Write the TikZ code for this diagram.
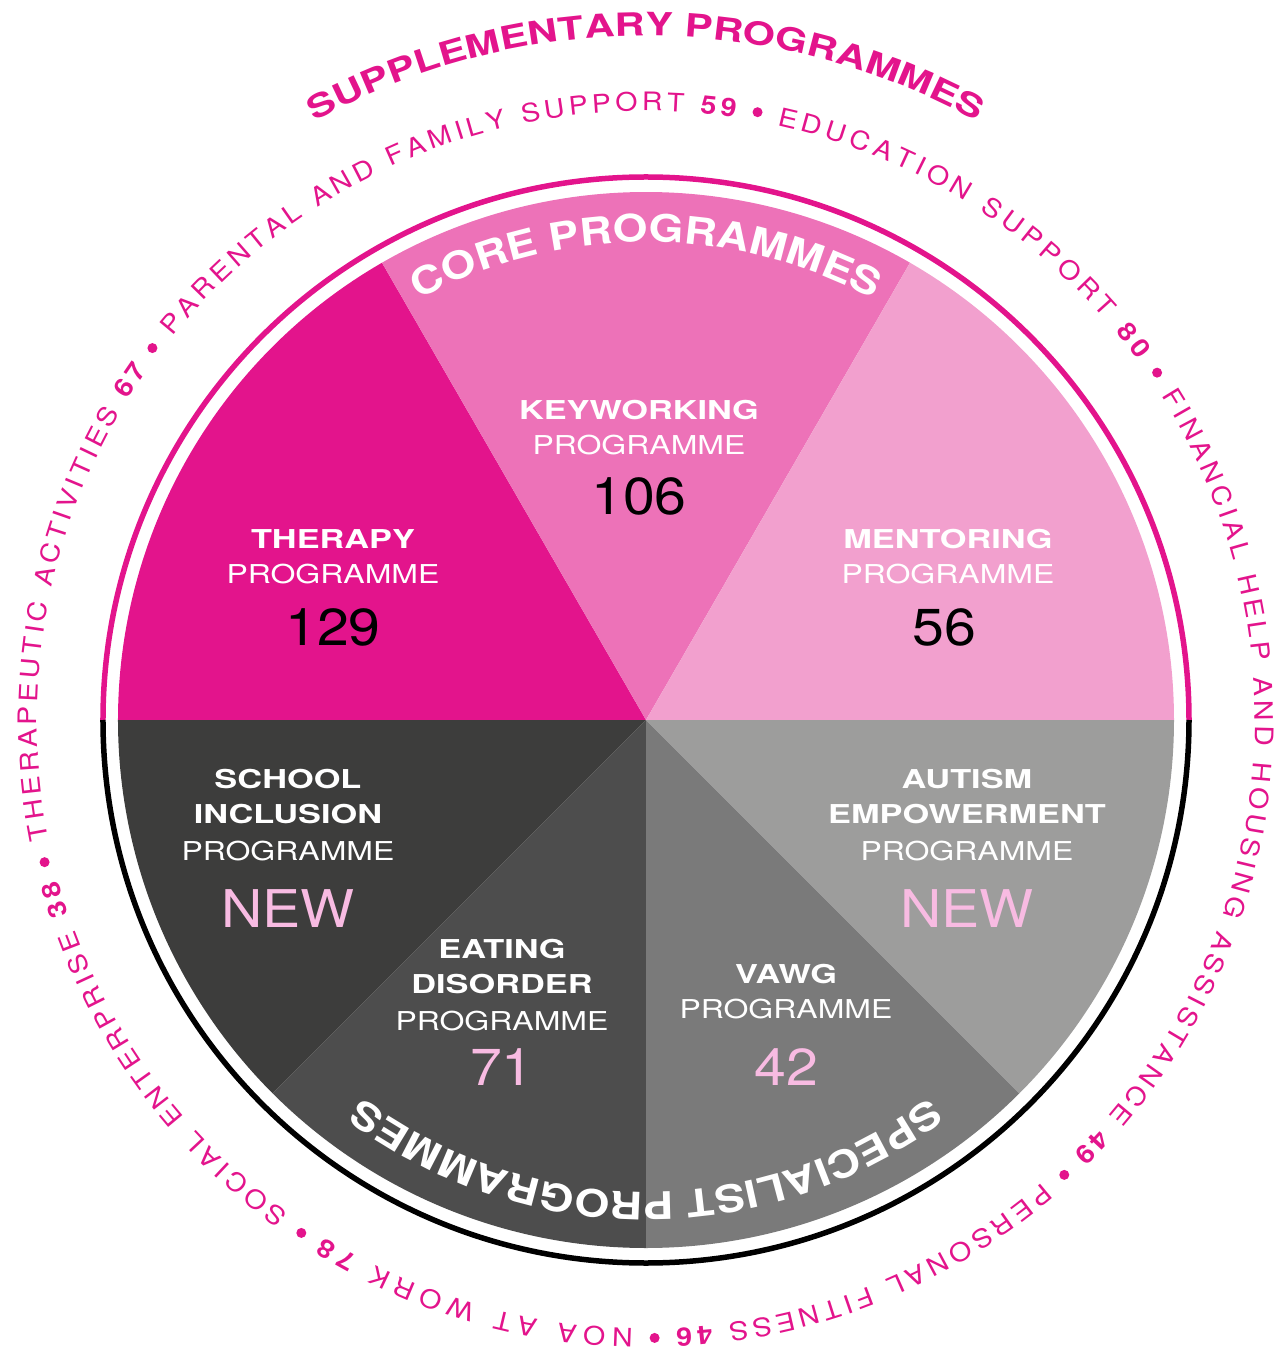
\documentclass[tikz,border=0pt]{standalone}
\usepackage{fontspec}
\setmainfont{TeX Gyre Heros}
\newfontfamily\widebold[FakeStretch=1.32]{TeX Gyre Heros}
\newfontfamily\wideplain[FakeStretch=1.23]{TeX Gyre Heros}
\newfontfamily\archeavy[FakeStretch=1.18]{TeX Gyre Heros}
\newfontfamily\topheavy[FakeStretch=1.3]{TeX Gyre Heros}
\newfontfamily\numplain[FakeStretch=1.1]{TeX Gyre Heros}
\newfontfamily\ringplain[FakeStretch=1.12]{TeX Gyre Heros}
\usetikzlibrary{decorations.text}

\definecolor{brand}{HTML}{E3148C}
\definecolor{keyw}{HTML}{ED72B8}
\definecolor{ment}{HTML}{F2A0CE}
\definecolor{school}{HTML}{3D3D3C}
\definecolor{eating}{HTML}{4D4D4D}
\definecolor{vawg}{HTML}{7A7A7A}
\definecolor{autism}{HTML}{9D9D9C}
\definecolor{newpink}{HTML}{F8BBE2}

\newcommand\ringfont{\ringplain\fontsize{25.5}{25.5}\selectfont}
\newcommand\suppfont{\topheavy\bfseries\fontsize{32}{32}\selectfont}
\newcommand\arcfont{\archeavy\bfseries\fontsize{38}{38}\selectfont}

\begin{document}
\begin{tikzpicture}[x=1pt,y=1pt,
  title/.style={font=\widebold\bfseries\fontsize{26}{30}\selectfont, text=white, anchor=base, inner sep=0pt},
  sub/.style={font=\wideplain\fontsize{26}{30}\selectfont, text=white, anchor=base, inner sep=0pt},
  big/.style={font=\numplain\fontsize{52}{60}\selectfont, anchor=base, inner sep=0pt}]
\useasboundingbox (-646,-637) rectangle (632,720);

% pie
\foreach \a/\b/\c in {180/120/brand,120/60/keyw,60/0/ment,180/225/school,225/270/eating,270/315/vawg,315/360/autism}
  \fill[fill=\c] (0,0) -- (\a:528pt) arc[start angle=\a,end angle=\b,radius=528pt] -- cycle;

% ring
\draw[brand, line width=5.5pt] (0:543pt) arc[start angle=0,end angle=180,radius=543pt];
\draw[black, line width=5.5pt] (180:543pt) arc[start angle=180,end angle=360,radius=543pt];

% curved titles
\path[decorate, decoration={text along path, text color=brand, text align=center,
  text={|\suppfont|SUPPLEMENTARY PROGRAMMES}}] (130:684pt) arc[start angle=130,end angle=50,radius=684pt];
\path[decorate, decoration={text along path, text color=white, text align=center,
  text={|\arcfont|CORE PROGRAMMES}}] (130:478pt) arc[start angle=130,end angle=50,radius=478pt];
\path[decorate, decoration={text along path, text color=white, text align=center,
  text={|\arcfont|SPECIALIST PROGRAMMES}}] (-40:472pt) arc[start angle=-40,end angle=-140,radius=472pt];

% outer ring of supplementary programmes
\path[decorate, decoration={text along path, text color=brand, text align=fit to path,
  text={|\ringfont|PARENTAL AND FAMILY SUPPORT |+\bfseries|59}}] (141:609pt) arc[start angle=141,end angle=81.6,radius=609pt];
\path[decorate, decoration={text along path, text color=brand, text align=fit to path,
  text={|\ringfont|EDUCATION SUPPORT |+\bfseries|80}}] (77.6:609pt) arc[start angle=77.6,end angle=36.2,radius=609pt];
\path[decorate, decoration={text along path, text color=brand, text align=fit to path,
  text={|\ringfont|FINANCIAL HELP AND HOUSING ASSISTANCE |+\bfseries|49}}] (32.2:609pt) arc[start angle=32.2,end angle=-45.4,radius=609pt];
\path[decorate, decoration={text along path, text color=brand, text align=fit to path,
  text={|\ringfont|PERSONAL FITNESS |+\bfseries|46}}] (-49.4:609pt) arc[start angle=-49.4,end angle=-87.2,radius=609pt];
\path[decorate, decoration={text along path, text color=brand, text align=fit to path,
  text={|\ringfont|NOA AT WORK |+\bfseries|78}}] (-91.2:609pt) arc[start angle=-91.2,end angle=-121.9,radius=609pt];
\path[decorate, decoration={text along path, text color=brand, text align=fit to path,
  text={|\ringfont|SOCIAL ENTERPRISE |+\bfseries|38}}] (-125.9:609pt) arc[start angle=-125.9,end angle=-164.7,radius=609pt];
\path[decorate, decoration={text along path, text color=brand, text align=fit to path,
  text={|\ringfont|THERAPEUTIC ACTIVITIES |+\bfseries|67}}] (191.3:609pt) arc[start angle=191.3,end angle=145,radius=609pt];
\foreach \a in {143,79.6,34.2,-47.4,-89.2,-123.9,-166.7}
  \fill[brand] (\a:618pt) circle[radius=5pt];

% core programmes
\node[title] (therapy) at (-313,171) {THERAPY};
\node[sub] (therapyprog) at (-313,136) {PROGRAMME};
\node[big] (therapynum) at (-313,74) {129};
\node[title] (keyworking) at (-7,300) {KEYWORKING};
\node[sub] (keyworkingprog) at (-7,265) {PROGRAMME};
\node[big] (keyworkingnum) at (-7,205) {106};
\node[title] (mentoring) at (302,171) {MENTORING};
\node[sub] (mentoringprog) at (302,136) {PROGRAMME};
\node[big] (mentoringnum) at (298,74) {56};

% specialist programmes
\node[title] (school) at (-358,-68) {SCHOOL};
\node[title] (inclusion) at (-358,-103) {INCLUSION};
\node[sub] (schoolprog) at (-358,-140) {PROGRAMME};
\node[big, text=newpink] (schoolnew) at (-358,-207) {NEW};
\node[title] (eating) at (-144,-238) {EATING};
\node[title] (disorder) at (-144,-273) {DISORDER};
\node[sub] (eatingprog) at (-144,-310) {PROGRAMME};
\node[big, text=newpink] (eatingnum) at (-144,-365) {71};
\node[title] (vawg) at (140,-263) {VAWG};
\node[sub] (vawgprog) at (140,-298) {PROGRAMME};
\node[big, text=newpink] (vawgnum) at (140,-365) {42};
\node[title] (autism) at (321,-68) {AUTISM};
\node[title] (empowerment) at (321,-103) {EMPOWERMENT};
\node[sub] (autismprog) at (321,-140) {PROGRAMME};
\node[big, text=newpink] (autismnew) at (321,-207) {NEW};
\end{tikzpicture}
\end{document}
